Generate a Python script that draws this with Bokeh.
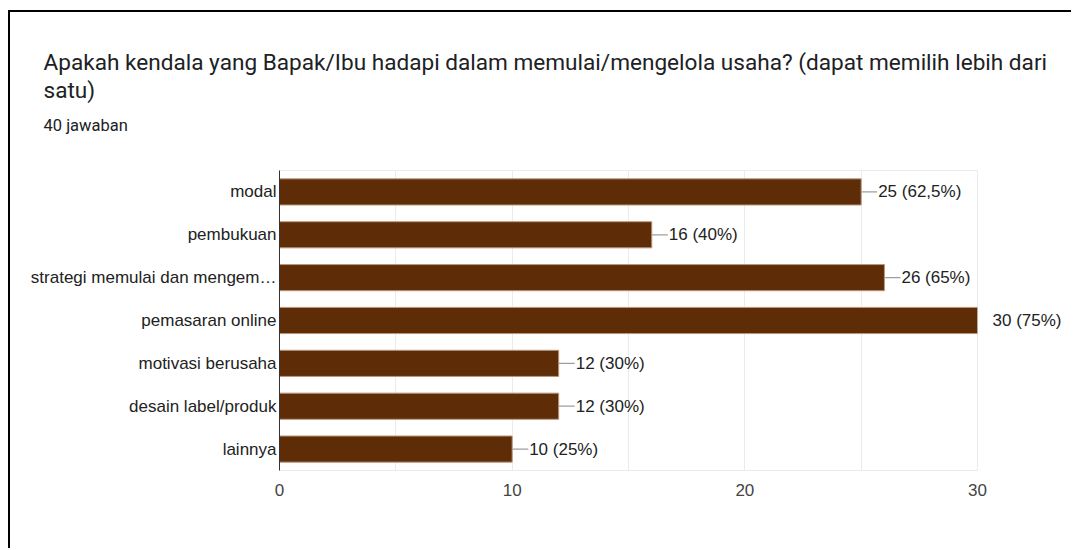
from bokeh.plotting import figure
from bokeh.models import (FixedTicker, LabelSet, ColumnDataSource, Title, LinearAxis, Range1d)
from bokeh.core.properties import value
from bokeh.embed import file_html
from bokeh.resources import INLINE

categories = ["modal", "pembukuan", "strategi memulai dan mengem…", "pemasaran online",
              "motivasi berusaha", "desain label/produk", "lainnya"]
counts = [25, 16, 26, 30, 12, 12, 10]
labels = ["25 (62,5%)", "16 (40%)", "26 (65%)", "30 (75%)", "12 (30%)", "12 (30%)", "10 (25%)"]
x_ticks = [0, 10, 20, 30]
grid_ticks = [0, 5, 10, 15, 20, 25, 30]

title_line1 = "Apakah kendala yang Bapak/Ibu hadapi dalam memulai/mengelola usaha? (dapat memilih lebih dari"
title_line2 = "satu)"
subtitle = "40 jawaban"

x_max = 30
n = len(categories)
ypos = [n - 1 - i for i in range(n)]          # first category on top
inside = [c < x_max for c in counts]

W, H = 1063, 538
p = figure(width=W, height=H, output_backend="svg", toolbar_location=None,
           y_range=Range1d(-0.5, n - 0.5), x_range=Range1d(0, x_max), title=None,
           min_border_left=269, min_border_right=96, min_border_top=158, min_border_bottom=80)
p.styles = {"border-top": "2px solid #000", "border-left": "2px solid #000",
            "margin-top": "10px", "margin-left": "8px"}
p.background_fill_color = "white"
p.border_fill_color = "white"
p.outline_line_color = "#ebebeb"
p.outline_line_width = 1

src = ColumnDataSource(dict(y=ypos, val=counts, lab=labels))
src_in = ColumnDataSource(dict(y=[y for y, k in zip(ypos, inside) if k],
                               val=[v for v, k in zip(counts, inside) if k],
                               lab=[l for l, k in zip(labels, inside) if k]))

p.hbar(y="y", right="val", left=0, height=0.61, source=src,
       fill_color="#5E2C06", line_color="#b8977c", line_width=1)
p.ray(x="val", y="y", length=16, length_units="screen", angle=0, source=src,
      line_color="#9e9e9e", line_width=1.2)
p.add_layout(LabelSet(x="val", y="y", text="lab", x_offset=17, source=src_in,
                      text_baseline="middle", text_align="left",
                      text_font=value("Liberation Sans"), text_font_size=value("17px"),
                      text_color="#222222"))

# label of the bar that reaches the end of the axis, outside the plot area
out_pos = [y for y, k in zip(ypos, inside) if not k]
out_lab = [l for l, k in zip(labels, inside) if not k]
right_axis = LinearAxis(ticker=FixedTicker(ticks=out_pos, minor_ticks=[]),
                        major_label_overrides={y: l for y, l in zip(out_pos, out_lab)})
right_axis.axis_line_color = None
right_axis.major_tick_line_color = None
right_axis.minor_tick_line_color = None
right_axis.major_tick_out = 0
right_axis.major_label_standoff = 15
right_axis.major_label_text_font = "Liberation Sans"
right_axis.major_label_text_font_size = "17px"
right_axis.major_label_text_color = "#222222"
p.add_layout(right_axis, "right")

# axes
p.xaxis.ticker = FixedTicker(ticks=x_ticks, minor_ticks=[])
p.xaxis.axis_line_color = None
p.xaxis.major_tick_line_color = None
p.xaxis.minor_tick_line_color = None
p.xaxis.major_tick_out = 0
p.xaxis.major_label_standoff = 13
p.xaxis.major_label_text_font = "Liberation Sans"
p.xaxis.major_label_text_font_size = "17px"
p.xaxis.major_label_text_color = "#444444"

yax = p.yaxis[0]
yax.ticker = FixedTicker(ticks=ypos, minor_ticks=[])
yax.major_label_overrides = {y: c for y, c in zip(ypos, categories)}
yax.axis_line_color = "#333333"
yax.axis_line_width = 1
yax.major_tick_line_color = None
yax.minor_tick_line_color = None
yax.major_tick_out = 0
yax.major_label_standoff = 3
yax.major_label_text_font = "Liberation Sans"
yax.major_label_text_font_size = "17px"
yax.major_label_text_color = "#222222"

p.xgrid.ticker = FixedTicker(ticks=grid_ticks)
p.xgrid.grid_line_color = "#ebebeb"
p.ygrid.grid_line_color = None

# titles (first added is closest to the plot); the first one is an empty spacer
p.add_layout(Title(text=" ", align="left", standoff=15, text_font_size="10px"), "above")
p.add_layout(Title(text=subtitle, align="left", offset=-236, standoff=15,
                   text_font="Roboto", text_font_size="16.5px", text_color="#202124",
                   text_font_style="normal"), "above")
p.add_layout(Title(text=title_line2, align="left", offset=-236, standoff=6,
                   text_font="Roboto", text_font_size="22.6px", text_color="#202124",
                   text_font_style="normal"), "above")
p.add_layout(Title(text=title_line1, align="left", offset=-236, standoff=-8,
                   text_font="Roboto", text_font_size="22.6px", text_color="#202124",
                   text_font_style="normal"), "above")

open("out.html", "w").write(file_html(p, INLINE))
